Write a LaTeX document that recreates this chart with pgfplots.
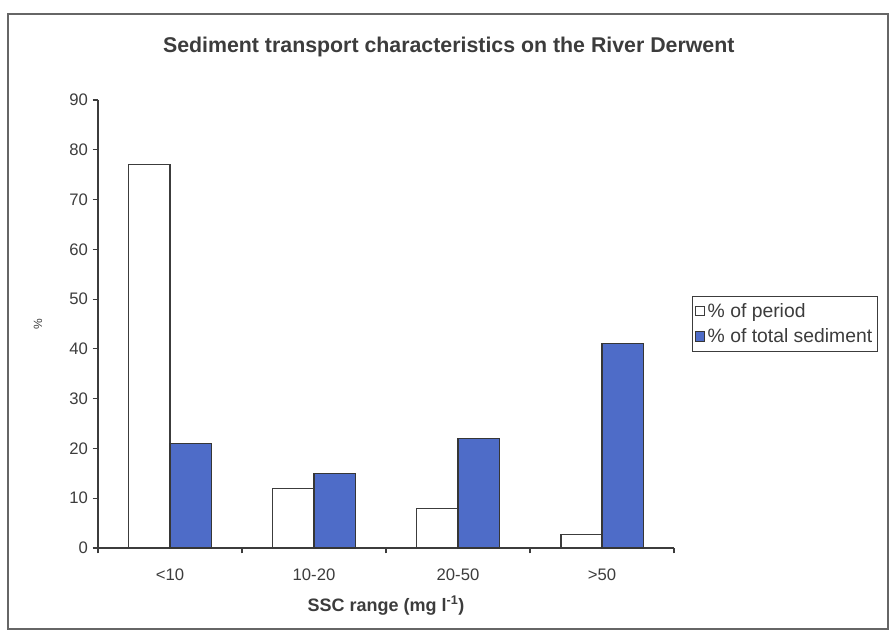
\documentclass[border=0pt]{standalone}
\usepackage{pgfplots}
\pgfplotsset{compat=1.18}
\usepackage{fontspec}
\setmainfont{Liberation Sans}
\definecolor{barblue}{RGB}{78,108,200}
\definecolor{axgray}{RGB}{60,60,60}

\begin{document}
\begin{tikzpicture}
  \begin{axis}[
    scale only axis,
    width=432pt,
    height=336pt,
    ybar=0pt,
    bar width=0.285,
    axis lines=left,
    axis line style={-,axgray,line width=0.8pt},
    xmin=-0.5, xmax=3.5,
    ymin=0, ymax=90,
    ytick={0,10,...,90},
    xtick={0,1,2,3},
    xticklabels={<10,10-20,20-50,>50},
    minor xtick={-0.5,0.5,1.5,2.5,3.5},
    major x tick style={draw=none},
    tick align=outside,
    major tick length=4pt,
    minor tick length=4pt,
    every tick/.style={axgray,line width=0.8pt},
    /pgf/number format/assume math mode=true,
    tick label style={font=\fontsize{12.5}{14}\selectfont, text=axgray},
    xticklabel style={yshift=-8pt},
    title={Sediment transport characteristics on the River Derwent},
    title style={font=\fontsize{16}{19}\selectfont\bfseries, text=axgray,
      at={(rel axis cs:0.609,1.100)}, anchor=center, yshift=0pt},
    ylabel={\%},
    ylabel style={font=\fontsize{9}{11}\selectfont, text=axgray,
      at={(rel axis cs:-0.104,0.5)}, anchor=center, rotate=0},
    xlabel={\textbf{SSC range (mg l\textsuperscript{-1})}},
    xlabel style={font=\fontsize{13.5}{16}\selectfont, text=axgray,
      at={(rel axis cs:0.5,-0.128)}, anchor=center},
    legend style={at={(rel axis cs:1.031,0.5625)}, anchor=north west,
      draw=axgray, line width=0.6pt, font=\fontsize{14.5}{16}\selectfont,
      text=axgray, row sep=3pt, inner xsep=2pt, inner ysep=3pt,
      cells={anchor=west}},
    legend image code/.code={
      \draw[#1,line width=0.6pt] (0pt,-3.5pt) rectangle (7pt,3.5pt);},
    clip=false,
  ]
  \addplot[draw=axgray, fill=white, line width=0.8pt]
    coordinates {(0,77) (1,12) (2,8) (3,2.8)};
  \addplot[draw=axgray!90!black, fill=barblue, line width=0.8pt]
    coordinates {(0,21) (1,15) (2,22) (3,41)};
  \legend{\% of period, \% of total sediment}
  \end{axis}
  % frame of the chart area
  \path[use as bounding box] ([xshift=-73.5pt,yshift=-61.5pt]current axis.south west)
    rectangle ([xshift=161.25pt,yshift=75pt]current axis.north east);
  \draw[gray!80!black, line width=0.8pt]
    ([xshift=-67.5pt,yshift=-60.75pt]current axis.south west)
    rectangle ([xshift=160.5pt,yshift=64.5pt]current axis.north east);
\end{tikzpicture}
\end{document}
